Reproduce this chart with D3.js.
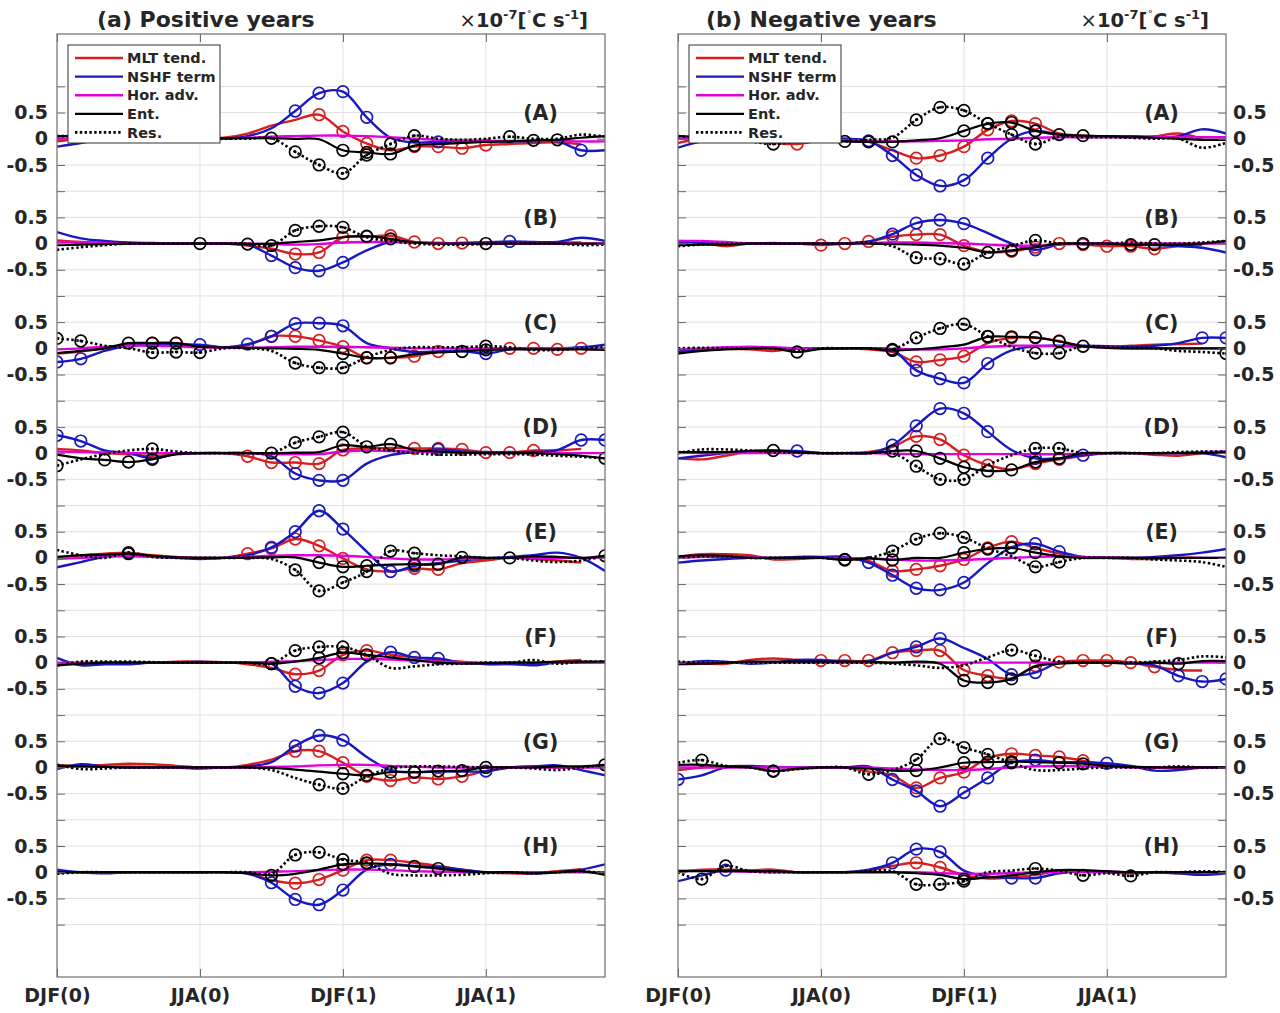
<!DOCTYPE html>
<html><head><meta charset="utf-8">
<script src="https://cdn.jsdelivr.net/npm/d3@7"></script>
<style>
body{margin:0;background:#fff;}
svg text{font-family:"DejaVu Sans",sans-serif;font-weight:bold;fill:#262626;}
</style>
</head><body>
<svg id="chart" width="1280" height="1013"></svg>
<script>
// ---------------- axis / labels ----------------
const months = d3.range(24);
const tickMonths = [0, 6, 12, 18];
const tickLabels = ["DJF(0)", "JJA(0)", "DJF(1)", "JJA(1)"];
const rowLabels = ["(A)", "(B)", "(C)", "(D)", "(E)", "(F)", "(G)", "(H)"];
const seriesNames = ["MLT tend.", "NSHF term", "Hor. adv.", "Ent.", "Res."];
const panelTitles = ["(a) Positive years", "(b) Negative years"];

// ---------------- (a) Positive years ----------------
const posA_mlt  = [-0.05,0,0,0,0,0,0,0.02,0.1,0.25,0.36,0.46,0.14,-0.09,-0.22,-0.15,-0.15,-0.18,-0.12,-0.1,-0.08,-0.07,-0.1,null];
const posA_nshf = [-0.15,-0.08,0,0,0,0,0,0,0.05,0.2,0.53,0.87,0.9,0.41,0.02,-0.07,-0.06,-0.05,-0.05,-0.05,-0.05,-0.05,-0.22,-0.22];
const posA_hadv = [0,0,0,0,0,0,0,0,0.02,0.04,0.05,0.06,0.06,0.05,0.03,0,-0.02,-0.03,-0.04,-0.04,-0.04,-0.04,-0.05,-0.05];
const posA_ent  = [0.05,0.05,0.03,0.02,0.01,0.01,0.01,0.01,0.01,0.01,0,-0.01,-0.22,-0.26,-0.29,-0.13,-0.1,-0.08,-0.06,-0.05,-0.03,-0.02,0.02,0.05];
const posA_res  = [0.05,0.05,0.03,0,0,0,0,0,0,0.01,-0.25,-0.5,-0.66,-0.31,-0.1,0.06,0,-0.02,0,0.04,0,0,0.08,0.04];
const posA_sig  = [[11,12,13,15,16,17,18],[10,11,12,13,16,22],[],[12,13,14,15,20,21],[9,10,11,12,13,14,15,19]];

const posB_mlt  = [0.06,0.03,0.01,0,0,0,0,0,-0.04,-0.1,-0.2,-0.17,0.12,0.13,0.15,0.03,0,0.01,0.02,0.02,0.02,0.02,0.02,null];
const posB_nshf = [0.22,0.1,0.05,0.02,0.01,0,0,0,-0.02,-0.23,-0.46,-0.52,-0.36,-0.13,0.03,0.02,0.01,0.01,0.02,0.04,0.03,0.03,0.11,0.05];
const posB_hadv = [0.03,0.02,0.01,0,0,0,0,0,0,-0.01,-0.02,-0.01,0.02,0.03,0.03,0.02,0.01,0,0,0,0,0,0,0];
const posB_ent  = [-0.03,-0.02,-0.01,0,0,0,0,0,-0.01,0,0.03,0.06,0.12,0.14,0.09,0.02,0,0,0,0,0,0,0,0];
const posB_res  = [-0.12,-0.07,-0.03,0,0,0,0,0,0,-0.04,0.25,0.33,0.31,0.12,0.05,0,-0.02,-0.02,-0.01,0,0,0,-0.03,-0.02];
const posB_sig  = [[10,11,12,13,14,15,16,17],[9,10,11,12,19],[],[8,13,14,18],[6,9,10,11,12]];

const posC_mlt  = [-0.1,-0.06,0,0.06,0.1,0.1,0.05,0.02,0.06,0.23,0.23,0.15,0.03,-0.18,-0.18,-0.15,-0.06,-0.04,-0.03,0,0,-0.02,0,null];
const posC_nshf = [-0.26,-0.2,-0.05,0.05,0.06,0.06,0.07,0.02,0.08,0.23,0.47,0.48,0.43,0.1,0,-0.07,-0.06,-0.05,-0.1,-0.02,0,0,0.02,0.07];
const posC_hadv = [-0.02,0,0.03,0.05,0.05,0.04,0.02,0.01,0.01,0.02,0.03,0.03,0.03,0.02,0.01,0,0,0,0,0,0,0,0,0];
const posC_ent  = [-0.09,-0.05,0,0.1,0.1,0.1,0.03,0.02,0.01,0,-0.01,-0.03,-0.1,-0.18,-0.18,-0.11,-0.08,-0.06,-0.03,-0.02,-0.02,-0.02,-0.02,-0.03];
const posC_res  = [0.19,0.14,0.05,0,-0.08,-0.07,-0.08,0,0,-0.05,-0.28,-0.37,-0.37,-0.17,-0.03,0.02,0.02,0.02,0.04,0.02,-0.03,-0.03,0,0.02];
const posC_sig  = [[4,5,9,10,11,12,13,14,15,16,19,20,21,22],[0,1,6,8,9,10,11,12,18],[],[3,4,5,12,13,14,17,18],[0,1,4,5,6,10,11,12,18]];

const posD_mlt  = [0.08,0.05,0,-0.02,-0.05,-0.02,0,0,-0.06,-0.18,-0.18,-0.2,0.06,0.09,0.1,0.09,0.09,0.07,0.01,0.01,0.05,0.05,0.08,null];
const posD_nshf = [0.34,0.23,0.05,0,-0.1,-0.02,0,0,0,-0.06,-0.39,-0.52,-0.52,-0.2,-0.04,0.02,0.07,0.03,0.02,0.02,0.02,0.06,0.25,0.25];
const posD_hadv = [0.03,0.02,0.01,0,0,0,0,0,0,-0.02,-0.02,-0.02,0.03,0.05,0.04,0.03,0.02,0.01,0,0,0,0,0,0];
const posD_ent  = [-0.03,-0.1,-0.13,-0.17,-0.12,-0.02,0,0,0,0,0.01,0.02,0.15,0.12,0.17,0.06,0.03,0.01,0,0,0,-0.02,-0.05,-0.1];
const posD_res  = [-0.24,-0.12,-0.02,0.05,0.08,0.03,0,0,0,0,0.2,0.31,0.4,0.13,0.05,0,-0.03,-0.03,-0.02,-0.02,-0.03,-0.05,-0.07,-0.1];
const posD_sig  = [[8,9,10,11,12,15,16,17,18,19,20],[0,1,4,10,11,12,16,22,23],[],[2,3,4,12,13,14,23],[0,4,9,10,11,12]];

const posE_mlt  = [0,0.05,0.08,0.1,0.05,0.02,0,0,0.08,0.18,0.36,0.23,-0.01,-0.22,-0.26,-0.2,-0.22,-0.1,-0.05,0,-0.02,-0.05,-0.09,null];
const posE_nshf = [-0.18,-0.08,0.02,0.05,0.02,0,-0.02,0,0.05,0.2,0.5,0.9,0.55,0.12,-0.26,-0.15,-0.1,-0.05,-0.01,0.02,0.05,0.1,0,-0.25];
const posE_hadv = [-0.02,0,0.03,0.03,0.02,0.01,0,0,0.02,0.04,0.05,0.05,0.04,0.02,-0.01,-0.03,-0.03,-0.02,-0.01,0,0,0,0,0];
const posE_ent  = [0.02,0.05,0.06,0.08,0.04,0.01,0,0,0,0.01,0.01,-0.09,-0.17,-0.15,-0.13,-0.12,-0.12,0.01,0,0,0.03,0.02,0,0.04];
const posE_res  = [0.15,0.05,0,0.1,0.02,0,0,0,0,-0.02,-0.23,-0.63,-0.47,-0.26,0.13,0.09,0.05,0.03,0,0,-0.05,-0.08,-0.05,0.04];
const posE_sig  = [[8,9,10,11,12,15,16],[9,10,11,12,14,15],[],[3,11,12,13,15,16,17,19,23],[3,10,11,12,13,14,15]];

const posF_mlt  = [-0.05,-0.02,0,0,0,0.02,0.02,0.01,-0.03,-0.1,-0.22,-0.15,0.15,0.23,0.15,0.1,0.05,0.02,-0.03,-0.03,-0.02,0.02,0.05,null];
const posF_nshf = [0.09,-0.05,-0.03,-0.03,0,0,0.02,0,0,-0.02,-0.45,-0.58,-0.39,0.02,0.2,0.1,0.08,0,-0.02,-0.02,-0.05,0,0,0.02];
const posF_hadv = [0,0,0,0,0,0,0,0,0,0.02,0.03,0.05,0.07,0.07,0.06,0.04,0.02,0.01,0,0,0,0,0,0];
const posF_ent  = [-0.05,-0.02,0,0,0,0,0,0,0,-0.02,0.02,0.09,0.19,0.15,0.1,0.05,0,-0.02,-0.01,0,0,0.02,0.02,0.02];
const posF_res  = [-0.05,0.02,0.02,0.02,0.01,0,0,0,0,-0.02,0.23,0.3,0.3,0.15,-0.1,-0.07,-0.03,-0.02,0,0,0.05,-0.02,0.02,0.02];
const posF_sig  = [[10,11,12,13],[10,11,12,14,15,16],[],[9,11,12,13],[9,10,11,12]];

const posG_mlt  = [0.05,0.03,0.05,0.07,0.06,0.03,0,0,0.05,0.15,0.31,0.31,0.09,-0.17,-0.25,-0.19,-0.22,-0.17,-0.07,0,0.02,0,0,null];
const posG_nshf = [-0.03,0.06,0.02,0,0,0,-0.02,0,0.02,0.1,0.41,0.61,0.52,0.2,-0.05,-0.09,-0.08,-0.08,-0.07,0,0.02,0.04,-0.05,-0.15];
const posG_hadv = [0.02,0.02,0.02,0.02,0.01,0,0,0,0,0.01,0.02,0.04,0.05,0.05,0.03,0.01,0,0,0,0,0,0,0,0];
const posG_ent  = [0.03,0.02,0.01,0,0,0,0,0,0,-0.01,-0.04,-0.08,-0.12,-0.15,-0.09,-0.09,-0.07,-0.06,0,0,0,0.02,0.02,0.05];
const posG_res  = [0.05,-0.03,-0.02,0,0,0,0,0,0,-0.05,-0.2,-0.33,-0.4,-0.17,-0.02,0.02,0.02,0.01,0,0,-0.02,-0.05,0,0.05];
const posG_sig  = [[10,11,12,13,14,15,16,17],[10,11,12,15,18],[],[12,13,14,15,16,17,18,23],[11,12]];

const posH_mlt  = [0,0,0,0,0,0,0,0,-0.02,-0.15,-0.21,-0.14,0.04,0.23,0.23,0.18,0.12,0.05,0,-0.02,-0.02,0.02,0.06,null];
const posH_nshf = [0.05,0,-0.02,0,0,0,0,0,-0.03,-0.2,-0.52,-0.62,-0.34,0.05,0.15,0.12,0.1,0.05,0,0,-0.02,0,0.05,0.15];
const posH_hadv = [0,0,0,0,0,0,0,0,0,0.01,0.02,0.04,0.05,0.05,0.04,0.02,0.01,0,0,0,0,0,0,0];
const posH_ent  = [0,0,0,0,0,0,0,0,-0.02,-0.06,-0.03,0.05,0.15,0.17,0.15,0.11,0.07,0.02,0,0,-0.02,0,0.02,-0.05];
const posH_res  = [-0.03,0,0,0,0,0,0,0,0,-0.03,0.33,0.38,0.24,0.18,-0.03,-0.06,-0.06,-0.05,-0.02,0,-0.02,0,0.02,-0.02];
const posH_sig  = [[10,11,12,13,14],[9,10,11,12,14],[],[9,12,13,15,16],[10,11,12,13]];

// ---------------- (b) Negative years ----------------
const negA_mlt  = [-0.08,0,0,-0.05,-0.08,-0.1,-0.03,0,-0.06,-0.22,-0.37,-0.32,-0.15,0.17,0.34,0.29,0.1,0.06,0.05,0.05,0.05,0.1,0,null];
const negA_nshf = [-0.17,-0.05,0,0,0,0,0,0,-0.04,-0.32,-0.69,-0.9,-0.79,-0.37,0,0.15,0.08,0.05,0.04,0.03,0.03,0.05,0.18,0.1];
const negA_hadv = [0,0,0,0,0,0,-0.02,-0.03,-0.04,-0.05,-0.05,-0.04,-0.03,-0.01,0,0.02,0.03,0.03,0.03,0.03,0.03,0.03,0.03,0.03];
const negA_ent  = [0.05,0.03,0.02,0,0,0,-0.02,-0.05,-0.06,-0.06,-0.03,0.01,0.15,0.29,0.31,0.15,0.08,0.06,0.05,0.04,0.02,0,-0.02,-0.02];
const negA_res  = [0.05,0.02,0,-0.05,-0.1,-0.05,-0.02,-0.05,-0.02,0.02,0.36,0.6,0.54,0.29,0.08,-0.1,0.04,0.03,0.03,0.02,0,0,-0.17,-0.08];
const negA_sig  = [[5,10,11,12,13,14,15],[8,9,10,11,12,13,15],[],[7,8,9,12,13,14,15,16,17],[4,10,11,12,13,14,15]];

const negB_mlt  = [0.05,0.02,-0.05,0,0.01,0,-0.03,0,0.04,0.13,0.17,0.17,-0.04,-0.16,-0.15,-0.07,0,-0.02,-0.05,-0.05,-0.1,-0.05,-0.03,null];
const negB_nshf = [0.02,0.02,0,0,0,0,0,0,0.04,0.18,0.39,0.45,0.38,0.2,0,-0.12,-0.02,0,0,-0.02,-0.03,-0.05,-0.08,-0.17];
const negB_hadv = [0.05,0.05,0.03,0,0,0,0,0,0.01,0.02,0.02,0.01,0,-0.02,-0.04,-0.04,-0.02,0,0,0,0,0,0,0];
const negB_ent  = [-0.03,-0.02,-0.02,0,0,0,0,0,0,-0.01,-0.02,-0.04,-0.08,-0.17,-0.13,-0.07,0,0,0,-0.02,-0.02,-0.02,0,0.05];
const negB_res  = [-0.05,-0.02,0,0,0,0,0,0,0.02,-0.05,-0.27,-0.29,-0.39,-0.17,-0.05,0.06,0,0,0,0.02,0,0,0.02,0.05];
const negB_sig  = [[6,7,8,9,10,11,12,14,15,16,17,18,19,20],[9,10,11,12,15],[],[13,14,17,19,20],[10,11,12,15]];

const negC_mlt  = [-0.08,-0.03,-0.01,-0.02,-0.05,0,0,0,-0.02,-0.07,-0.26,-0.22,-0.15,0.1,0.2,0.2,0.14,0.04,0.03,0.05,0.07,0.08,0.09,null];
const negC_nshf = [-0.05,-0.02,0,0,0,0,0,0,0,-0.03,-0.42,-0.58,-0.66,-0.29,-0.04,0.04,0.05,0.05,0.04,0.03,0.05,0.1,0.2,0.2];
const negC_hadv = [-0.02,0,0.02,0.03,0.02,0,0,0,0,-0.01,-0.02,-0.02,0,0.03,0.05,0.05,0.04,0.03,0.02,0,0,0,0,0];
const negC_ent  = [-0.1,-0.05,-0.02,0,0,-0.07,-0.01,0,0,-0.04,-0.02,0.02,0.07,0.22,0.22,0.21,0.13,0.04,0.01,0,0,0,0,0];
const negC_res  = [0,0.01,0,0,0,-0.05,0,0,0,-0.02,0.2,0.38,0.46,0.23,0.03,-0.09,-0.09,0.04,0.02,0.01,0,-0.05,-0.07,-0.1];
const negC_sig  = [[10,11,12,14,15,16],[10,11,12,13,22,23],[],[5,9,13,14,15,16,17],[9,10,11,12,13,15,16,23]];

const negD_mlt  = [-0.1,-0.12,-0.05,0.03,0.05,0.03,0,0,0.02,0.12,0.32,0.26,-0.04,-0.23,-0.31,-0.2,-0.12,-0.05,0,0,-0.03,-0.05,0,null];
const negD_nshf = [-0.1,-0.05,0,0.04,0.04,0.04,0,0,0,0.15,0.52,0.85,0.76,0.41,0.06,-0.1,-0.1,-0.04,0,0,0,0,0,-0.08];
const negD_hadv = [0.02,0,0,0,0,0,0,0,0,-0.01,-0.02,-0.02,-0.02,-0.02,-0.02,-0.02,-0.02,-0.01,0,0,0,0,0.02,0.03];
const negD_ent  = [0.02,0.02,0.02,0.04,0.05,0.02,0,0,0,0.04,0.04,-0.1,-0.27,-0.34,-0.32,-0.17,-0.1,0,0,0,0,0,0,0.02];
const negD_res  = [0,0.07,0.07,0.05,0.02,0.01,0,0,0,0,-0.25,-0.5,-0.5,-0.23,-0.04,0.09,0.09,0,0,0,0,0.02,0.03,0.03];
const negD_sig  = [[10,11,12,13,15,16],[5,9,10,11,12,13,15,17],[],[4,9,10,11,12,13,14,15,16],[10,11,12,15,16]];

const negE_mlt  = [0.02,0.07,0.07,0.05,-0.03,-0.02,0,-0.02,-0.06,-0.25,-0.22,-0.15,-0.03,0.19,0.31,0.19,0.08,0,0,-0.02,-0.02,0,0,null];
const negE_nshf = [-0.09,-0.05,-0.02,0,0,0.02,0.02,0.02,-0.09,-0.33,-0.58,-0.61,-0.47,-0.1,0.2,0.27,0.12,0.02,0,0,0.02,0.05,0.1,0.17];
const negE_hadv = [0,0.02,0.02,0.01,0,0,0,0,-0.01,-0.03,-0.05,-0.05,-0.04,-0.02,0,0.02,0.03,0.02,0.01,0,0,0,0,0];
const negE_ent  = [0.03,0.05,0.04,0,0,0,0,-0.04,-0.01,-0.04,0,0,0.1,0.17,0.19,0.1,0.03,0,0,0,0,0,0,0];
const negE_res  = [0,0.03,0.03,0,0,0,0,-0.03,0,0.13,0.36,0.47,0.39,0.18,0.03,-0.17,-0.08,0,0,0,-0.03,-0.05,-0.08,-0.17];
const negE_sig  = [[9,10,11,12,13,14],[8,9,10,11,12,14,15,16],[],[7,9,12,13,14,15],[7,9,10,11,12,15,16]];

const negF_mlt  = [-0.03,-0.02,-0.02,0.05,0.08,0.05,0.04,0.04,0.04,0.19,0.23,0.23,-0.14,-0.25,-0.3,-0.06,0.01,0.04,0.04,0,-0.08,-0.14,-0.15,null];
const negF_nshf = [-0.02,0.03,0.02,-0.02,0,0.05,0.05,0.02,0.02,0.19,0.3,0.46,0.28,0.07,-0.23,-0.19,0,0,0,0,-0.05,-0.25,-0.36,-0.31];
const negF_hadv = [0,0,0,0,0,0,0,0,0,0,0,0,0,0,0,0,0,0,0,0,0,0,0,0];
const negF_ent  = [-0.02,-0.02,0,0.02,0.02,0.02,0.02,0.02,0.02,0,0.02,-0.02,-0.34,-0.38,-0.31,-0.07,-0.02,0,0,-0.02,0,-0.02,0.03,0.03];
const negF_res  = [0.02,0,0,0,0,0,0,0,0,-0.02,-0.05,-0.1,-0.05,0.1,0.24,0.13,0.02,0,0,0,0.02,0.05,0.12,0.1];
const negF_sig  = [[6,7,8,9,10,11,12,13,15,16,17,18,19,20],[10,11,14,15,21,22,23],[],[12,13,14,21],[14,15]];

const negG_mlt  = [-0.05,0,0.02,0.02,-0.07,-0.03,0,0,-0.08,-0.15,-0.39,-0.2,-0.09,0.18,0.26,0.23,0.2,0.13,0.05,0.02,0,0,0,null];
const negG_nshf = [-0.23,-0.15,0,0.03,0.01,0,0,0,0.02,-0.23,-0.45,-0.74,-0.48,-0.2,0.09,0.14,0.1,0.1,0.08,0.03,-0.06,-0.05,0,0];
const negG_hadv = [0,0,0,0,0,0,0,0,0,-0.02,-0.04,-0.05,-0.05,-0.03,0,0.02,0.03,0.02,0.01,0,0,0,0,0];
const negG_ent  = [0.05,0.05,0.02,0,-0.07,-0.02,0,0,-0.02,-0.06,-0.06,0,0.09,0.1,0.11,0.1,0.09,0.07,0.03,0.01,0,0,0,0];
const negG_res  = [0.09,0.14,0.03,0,-0.07,-0.03,0,0,-0.13,-0.05,0.15,0.55,0.38,0.25,0.09,-0.05,-0.05,-0.02,0,0,0,0.02,0,0];
const negG_sig  = [[10,11,12,14,15,16,17],[0,9,10,11,12,13,15,18],[],[4,10,12,13,14,16,17],[1,4,8,10,11,12,13,14]];

const negH_mlt  = [0,0.05,0.05,0.04,0.05,0,0,0,0.03,0.12,0.18,0.09,-0.05,-0.12,-0.1,-0.05,0.02,0,0,-0.02,0,-0.02,-0.02,null];
const negH_nshf = [-0.17,-0.06,0.04,0.02,0.01,0,0,0,0.05,0.18,0.44,0.39,0.03,-0.08,-0.11,-0.11,-0.02,0.02,0,0,0,-0.02,-0.05,-0.02];
const negH_hadv = [0.03,0.03,0.02,0.01,0,0,0,0,0,0,0,-0.02,-0.03,-0.03,-0.02,0,0.01,0.01,0.01,0,0,0,0,0];
const negH_ent  = [0.02,0.02,0.02,0.02,0.02,0,0,0,0,0,-0.02,-0.05,-0.13,-0.1,-0.06,0,0.04,0.04,0.02,0,0,0,0,0];
const negH_res  = [0,-0.13,0.12,0.02,0,0,0,0,0.02,0.02,-0.23,-0.23,-0.17,0,0.03,0.07,0.03,-0.06,-0.02,-0.07,0,0,0.02,0];
const negH_sig  = [[10,11],[2,9,10,11,14,15],[],[12],[1,2,10,11,12,15,17,19]];

// ---------------- assemble ----------------
const posRows = [
  [[posA_mlt,posA_nshf,posA_hadv,posA_ent,posA_res],posA_sig],
  [[posB_mlt,posB_nshf,posB_hadv,posB_ent,posB_res],posB_sig],
  [[posC_mlt,posC_nshf,posC_hadv,posC_ent,posC_res],posC_sig],
  [[posD_mlt,posD_nshf,posD_hadv,posD_ent,posD_res],posD_sig],
  [[posE_mlt,posE_nshf,posE_hadv,posE_ent,posE_res],posE_sig],
  [[posF_mlt,posF_nshf,posF_hadv,posF_ent,posF_res],posF_sig],
  [[posG_mlt,posG_nshf,posG_hadv,posG_ent,posG_res],posG_sig],
  [[posH_mlt,posH_nshf,posH_hadv,posH_ent,posH_res],posH_sig]
];
const negRows = [
  [[negA_mlt,negA_nshf,negA_hadv,negA_ent,negA_res],negA_sig],
  [[negB_mlt,negB_nshf,negB_hadv,negB_ent,negB_res],negB_sig],
  [[negC_mlt,negC_nshf,negC_hadv,negC_ent,negC_res],negC_sig],
  [[negD_mlt,negD_nshf,negD_hadv,negD_ent,negD_res],negD_sig],
  [[negE_mlt,negE_nshf,negE_hadv,negE_ent,negE_res],negE_sig],
  [[negF_mlt,negF_nshf,negF_hadv,negF_ent,negF_res],negF_sig],
  [[negG_mlt,negG_nshf,negG_hadv,negG_ent,negG_res],negG_sig],
  [[negH_mlt,negH_nshf,negH_hadv,negH_ent,negH_res],negH_sig]
];

// ---------------- drawing ----------------
const colors = ["#d81e1e", "#1818c0", "#e000e0", "#000000", "#000000"];
const dashes = [null, null, null, null, "2.4,2.4"];
const widths = [2.4, 2.4, 2.4, 2.2, 2.6];
const svg = d3.select("#chart");
const yTop = 34, yBot = 977;
const y = d3.scaleLinear().domain([-16, 2]).range([yBot, yTop]);
const yTicks = d3.range(-15, 1.001, 0.5);
function yFmt(v) {
  const k = Math.max(0, Math.min(7, Math.round(-v / 2)));
  const r = +(v + 2 * k).toFixed(2);
  if (Math.abs(r) > 0.5) return "";
  return r === 0 ? "0" : String(r);
}

const panels = [
  {x0: 57, x1: 605, rows: posRows, title: panelTitles[0], titleX: 97, labelSide: "left"},
  {x0: 678, x1: 1226, rows: negRows, title: panelTitles[1], titleX: 706, labelSide: "right"}
];

panels.forEach((p, pi) => {
  const x = d3.scaleLinear().domain([0, 23]).range([p.x0, p.x1]);
  const g = svg.append("g");

  // grid
  g.append("g").selectAll("line").data(yTicks).join("line")
    .attr("x1", p.x0).attr("x2", p.x1)
    .attr("y1", d => y(d)).attr("y2", d => y(d))
    .attr("stroke", "#e0e0e0").attr("stroke-width", 1);
  g.append("g").selectAll("line").data(tickMonths.slice(1)).join("line")
    .attr("x1", d => x(d)).attr("x2", d => x(d))
    .attr("y1", yTop).attr("y2", yBot)
    .attr("stroke", "#e0e0e0").attr("stroke-width", 1);

  const clipId = "clip" + pi;
  svg.append("clipPath").attr("id", clipId).append("rect")
    .attr("x", p.x0).attr("y", yTop).attr("width", p.x1 - p.x0).attr("height", yBot - yTop);

  const plot = g.append("g").attr("clip-path", `url(#${clipId})`);

  p.rows.forEach((row, k) => {
    const off = -2 * k;
    const [series, sig] = row;
    series.forEach((vals, s) => {
      const line = d3.line()
        .defined(d => d[1] !== null)
        .x(d => x(d[0])).y(d => y(off + d[1]))
        .curve(d3.curveCatmullRom.alpha(0.5));
      plot.append("path")
        .datum(months.map(m => [m, vals[m]]))
        .attr("d", line)
        .attr("fill", "none")
        .attr("stroke", colors[s])
        .attr("stroke-width", widths[s])
        .attr("stroke-dasharray", dashes[s]);
      const pts = sig[s].filter(m => vals[m] !== null);
      plot.append("g").selectAll("circle").data(pts).join("circle")
        .attr("cx", m => x(m)).attr("cy", m => y(off + vals[m]))
        .attr("r", 5.8).attr("fill", "none")
        .attr("stroke", colors[s]).attr("stroke-width", 1.7);
      if (s === 4) {
        plot.append("g").selectAll("circle").data(pts).join("circle")
          .attr("cx", m => x(m)).attr("cy", m => y(off + vals[m]))
          .attr("r", 1.4).attr("fill", "#000");
      }
    });
    // row label
    g.append("text")
      .attr("x", p.x0 + 483.5).attr("y", y(off + 0.5))
      .attr("dy", "0.36em").attr("text-anchor", "middle")
      .attr("font-size", 20.5).text(rowLabels[k]);
  });

  // axes
  const axL = d3.axisLeft(y).tickValues(yTicks).tickSize(-8).tickPadding(9)
    .tickFormat(p.labelSide === "left" ? yFmt : () => "");
  const axR = d3.axisRight(y).tickValues(yTicks).tickSize(-8).tickPadding(7)
    .tickFormat(p.labelSide === "right" ? yFmt : () => "");
  const axB = d3.axisBottom(x).tickValues(tickMonths).tickSize(-8).tickPadding(12)
    .tickFormat((d, i) => tickLabels[i]);
  const axT = d3.axisTop(x).tickValues(tickMonths).tickSize(-8).tickFormat(() => "");
  [[axL, `translate(${p.x0},0)`], [axR, `translate(${p.x1},0)`],
   [axB, `translate(0,${yBot})`], [axT, `translate(0,${yTop})`]].forEach(([ax, tr]) => {
    const ag = g.append("g").attr("transform", tr).call(ax);
    ag.select(".domain").remove();
    ag.selectAll(".tick line").attr("stroke", "#666");
    ag.selectAll(".tick text").attr("font-size", 19)
      .attr("font-family", "DejaVu Sans").attr("font-weight", "bold").attr("fill", "#262626");
  });
  g.append("rect").attr("x", p.x0).attr("y", yTop)
    .attr("width", p.x1 - p.x0).attr("height", yBot - yTop)
    .attr("fill", "none").attr("stroke", "#6e6e6e").attr("stroke-width", 1.2);

  // legend
  const lg = g.append("g").attr("transform", `translate(${p.x0 + 11},45)`);
  lg.append("rect").attr("width", 152).attr("height", 98)
    .attr("fill", "#fff").attr("stroke", "#333").attr("stroke-width", 1);
  seriesNames.forEach((n, i) => {
    const yy = 13 + i * 18.6;
    lg.append("line").attr("x1", 7).attr("x2", 55).attr("y1", yy).attr("y2", yy)
      .attr("stroke", colors[i]).attr("stroke-width", widths[i])
      .attr("stroke-dasharray", dashes[i]);
    lg.append("text").attr("x", 59).attr("y", yy).attr("dy", "0.36em")
      .attr("font-size", 14.5).text(n);
  });

  // titles
  g.append("text").attr("x", p.titleX).attr("y", 27).attr("font-size", 22).text(p.title);
  const u = g.append("text").attr("x", p.x1 - 17).attr("y", 27)
    .attr("text-anchor", "end").attr("font-size", 19.5);
  u.append("tspan").attr("font-weight", "normal").text("\u00d7");
  u.append("tspan").text("10");
  u.append("tspan").attr("dy", -8).attr("font-size", 13).text("-7");
  u.append("tspan").attr("dy", 8).text("[");
  u.append("tspan").attr("dy", -8).attr("font-size", 11).attr("font-weight", "normal").text("\u02da");
  u.append("tspan").attr("dy", 8).text("C s");
  u.append("tspan").attr("dy", -8).attr("font-size", 13).text("-1");
  u.append("tspan").attr("dy", 8).text("]");
});
</script>
</body></html>
